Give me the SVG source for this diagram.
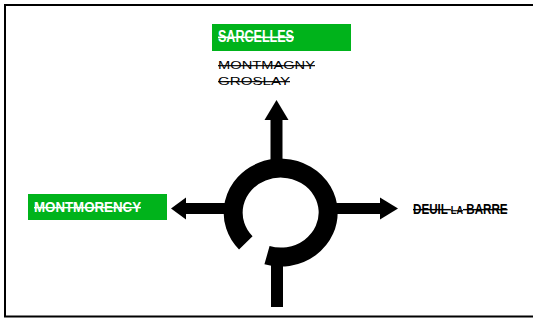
<svg xmlns="http://www.w3.org/2000/svg" width="533" height="320" viewBox="0 0 533 320">
<style>
.lbl{font-family:"Liberation Sans",Arial,sans-serif;text-decoration:line-through}
.w{fill:#fff;font-weight:bold}
.k{fill:#000}
.box{fill:#00b31b}
.shaft{stroke:#000;fill:none}
.head{fill:#000}
</style>
<rect x="0" y="0" width="533" height="320" fill="#fff"/>
<rect x="5" y="5" width="532" height="311.5" fill="none" stroke="#000" stroke-width="2"/>
<g id="connectors">
<path class="shaft" stroke-width="19" d="M245.8 242.8 A47.5 44.5 0 1 1 267 255.2"/>
<line class="shaft" stroke-width="12" x1="276.5" y1="165" x2="276.5" y2="119"/>
<polygon class="head" points="276.5,100 264.5,120 288.5,120"/>
<line class="shaft" stroke-width="11" x1="230" y1="208.5" x2="185" y2="208.5"/>
<polygon class="head" points="171,208.5 186,197.5 186,219.5"/>
<line class="shaft" stroke-width="11" x1="332" y1="208.5" x2="381" y2="208.5"/>
<polygon class="head" points="398,208.5 380,197.5 380,219.5"/>
<line class="shaft" stroke-width="12" x1="277" y1="250" x2="277" y2="307"/>
</g>
<g id="sarcelles">
<rect class="box" x="212" y="24" width="139" height="27"/>
<text class="lbl w" x="218" y="42" font-size="16" textLength="76" lengthAdjust="spacingAndGlyphs">SARCELLES</text>
<text class="lbl k" x="218" y="69" font-size="11.5" textLength="97" lengthAdjust="spacingAndGlyphs">MONTMAGNY</text>
<text class="lbl k" x="218" y="85" font-size="11.5" textLength="72" lengthAdjust="spacingAndGlyphs">GROSLAY</text>
</g>
<g id="montmorency">
<rect class="box" x="28" y="194" width="139" height="26"/>
<text class="lbl w" x="34" y="212" font-size="14" textLength="107" lengthAdjust="spacingAndGlyphs">MONTMORENCY</text>
</g>
<g id="deuil">
<text class="lbl k" transform="translate(413 214) scale(0.83 1)" x="0" y="0" font-size="14" font-weight="bold">DEUIL <tspan font-size="11">LA</tspan> BARRE</text>
</g>
</svg>
